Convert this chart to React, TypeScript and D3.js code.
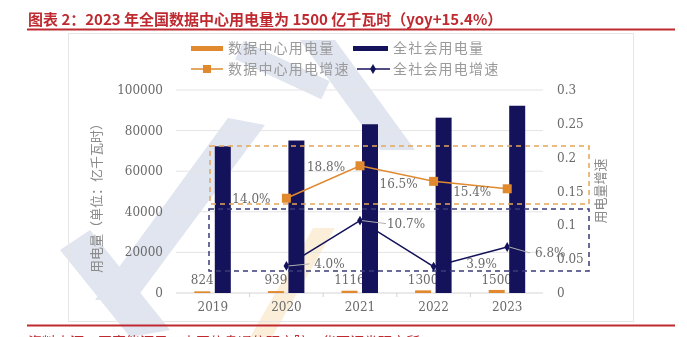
import React from "react";
import * as d3 from "d3";

const years = ["2019", "2020", "2021", "2022", "2023"];
const dcPower = [824, 939, 1116, 1300, 1500];
const totalPower = [72255, 75110, 83128, 86372, 92241];
const dcGrowthYears = ["2020", "2021", "2022", "2023"];
const dcGrowth = [0.14, 0.188, 0.165, 0.154];
const totalGrowth = [0.04, 0.107, 0.039, 0.068];
const leftTicks = [0, 20000, 40000, 60000, 80000, 100000];
const rightTicks = [0, 0.05, 0.1, 0.15, 0.2, 0.25, 0.3];
const legendNames = ["数据中心用电量", "全社会用电量", "数据中心用电增速", "全社会用电增速"];
const titleText = "图表 2：2023 年全国数据中心用电量为 1500 亿千瓦时（yoy+15.4%）";
const sourceText = "资料来源：国家能源局，中国信息通信研究院，华西证券研究所";

const ORANGE = "#e0892f";
const NAVY = "#14125a";
const RED = "#bf2a30";
const GRAY = "#6a6a6a";
const SERIF = "'DejaVu Serif', serif";
const CJK = "'Noto Sans CJK SC', sans-serif";

// label offsets (styling only)
const dcLabelOff = [
  [-35, 5],
  [-34, 5],
  [-35, 7],
  [-35, 7],
];
const totLabelOff = [
  [43, 2],
  [46, 7],
  [48, 1],
  [43, 10],
];
const totLeader = [true, true, false, true];

export default function App() {
  const x = d3.scaleBand<string>().domain(years).range([176, 544]);
  const yL = d3.scaleLinear().domain([0, 100000]).range([293, 90]);
  const yR = d3.scaleLinear().domain([0, 0.3]).range([293, 90]);
  const cx = (y: string) => (x(y) as number) + x.bandwidth() / 2;
  const bw = 16;

  const dcPts = dcGrowthYears.map((y, i) => [cx(y), yR(dcGrowth[i])] as [number, number]);
  const totPts = dcGrowthYears.map((y, i) => [cx(y), yR(totalGrowth[i])] as [number, number]);
  const line = d3.line();

  return (
    <svg
      width={687}
      height={337}
      style={{ position: "absolute", left: 0, top: 0, background: "#fff" }}
    >
      {/* watermark */}
      <g opacity={0.28}>
        <polygon points="95,300 135,300 265,125 228,118" fill="#8fa0c8" />
        <polygon points="60,250 90,230 170,330 130,337" fill="#8fa0c8" />
        <polygon points="235,60 330,60 330,80 235,80" fill="#8fa0c8" transform="rotate(25 282 70)" />
        <polygon points="300,40 335,40 415,150 380,150" fill="#8fa0c8" />
        <polygon points="250,337 272,337 335,228 313,228" fill="#f2c77a" />
      </g>

      {/* title */}
      <text x={28} y={25} fontFamily={CJK} fontWeight={700} fontSize={15} fill={RED}>
        {titleText}
      </text>
      <line x1={27} x2={675} y1={29.5} y2={29.5} stroke={RED} strokeWidth={2} />
      <line x1={27} x2={675} y1={325.5} y2={325.5} stroke={RED} strokeWidth={2} />
      <text x={28} y={347} fontFamily={CJK} fontSize={14} fill={RED}>
        {sourceText}
      </text>

      {/* panel */}
      <rect x={68.5} y={33.5} width={565} height={288} fill="none" stroke="#e6e6e6" />

      {/* legend */}
      <g fontFamily={CJK} fontSize={14} fill="#9a9a9a" letterSpacing={1.2}>
        <rect x={191} y={46} width={32} height={5} fill={ORANGE} />
        <text x={228} y={53}>{legendNames[0]}</text>
        <rect x={353} y={46} width={35} height={5} fill={NAVY} />
        <text x={393} y={53}>{legendNames[1]}</text>
        <line x1={191} x2={223} y1={69} y2={69} stroke={ORANGE} strokeWidth={1.5} />
        <rect x={203} y={65} width={8} height={8} fill={ORANGE} />
        <text x={228} y={74}>{legendNames[2]}</text>
        <line x1={357} x2={390} y1={69} y2={69} stroke={NAVY} strokeWidth={1.5} />
        <path d={d3.symbol(d3.symbolDiamond, 30)() as string} transform="translate(373,69)" fill={NAVY} />
        <text x={393} y={74}>{legendNames[3]}</text>
      </g>

      {/* gridlines */}
      {leftTicks.slice(1).map((t) => (
        <line key={t} x1={176} x2={543} y1={yL(t)} y2={yL(t)} stroke="#e4e4e4" strokeWidth={1} />
      ))}
      <line x1={176} x2={543} y1={yL(0)} y2={yL(0)} stroke="#d4d4d4" strokeWidth={1} />
      {years.slice(1).map((y) => (
        <line key={y} x1={x(y) as number} x2={x(y) as number} y1={293} y2={297} stroke="#d4d4d4" />
      ))}

      {/* left axis */}
      <g fontFamily={SERIF} fontSize={12} fill={GRAY} textAnchor="end">
        {leftTicks.map((t) => (
          <text key={t} x={163} y={yL(t) + 4}>{t}</text>
        ))}
      </g>
      {/* right axis */}
      <g fontFamily={SERIF} fontSize={12} fill={GRAY} textAnchor="start">
        {rightTicks.map((t) => (
          <text key={t} x={557} y={yR(t) + 4}>{String(t)}</text>
        ))}
      </g>
      {/* x axis */}
      <g fontFamily={SERIF} fontSize={12} fill={GRAY} textAnchor="middle">
        {years.map((y) => (
          <text key={y} x={cx(y)} y={311}>{y}</text>
        ))}
      </g>
      <text
        transform="translate(101,195) rotate(-90)"
        textAnchor="middle"
        fontFamily={CJK}
        fontSize={13}
        fill="#8a8a8a"
      >
        用电量（单位：亿千瓦时）
      </text>
      <text
        transform="translate(605,191) rotate(-90)"
        textAnchor="middle"
        fontFamily={CJK}
        fontSize={13}
        fill="#8a8a8a"
      >
        用电量增速
      </text>

      {/* dc bar labels */}
      <g fontFamily={SERIF} fontSize={12} fill={GRAY} textAnchor="middle">
        {years.map((y, i) => (
          <text key={y} x={cx(y) - 10.5} y={284}>{dcPower[i]}</text>
        ))}
      </g>

      {/* bars */}
      {years.map((y, i) => (
        <rect
          key={"dc" + y}
          x={cx(y) - 18.5}
          width={bw}
          y={yL(dcPower[i])}
          height={yL(0) - yL(dcPower[i])}
          fill={ORANGE}
        />
      ))}
      {years.map((y, i) => (
        <rect
          key={"t" + y}
          x={cx(y) + 2}
          width={bw}
          y={yL(totalPower[i])}
          height={yL(0) - yL(totalPower[i])}
          fill={NAVY}
        />
      ))}

      {/* dashed annotation boxes */}
      <rect x={210} y={146} width={379} height={58} fill="none" stroke="#e3a75a" strokeWidth={1.5} strokeDasharray="5,4" />
      <rect x={209} y={209} width={380} height={62} fill="none" stroke="#3b3b78" strokeWidth={1.5} strokeDasharray="5,4" />

      {/* dc growth line */}
      <path d={line(dcPts) as string} fill="none" stroke={ORANGE} strokeWidth={1.5} />
      {dcPts.map((p, i) => (
        <rect key={i} x={p[0] - 4.5} y={p[1] - 4.5} width={9} height={9} fill={ORANGE} />
      ))}
      {/* total growth line */}
      <path d={line(totPts) as string} fill="none" stroke={NAVY} strokeWidth={1.5} />
      {totPts.map((p, i) => (
        <path key={i} d={d3.symbol(d3.symbolDiamond, 28)() as string} transform={`translate(${p[0]},${p[1]})`} fill={NAVY} />
      ))}
      {totPts.map((p, i) =>
        totLeader[i] ? (
          <line
            key={"ld" + i}
            x1={p[0] + 2}
            y1={p[1]}
            x2={p[0] + totLabelOff[i][0] - 20}
            y2={p[1] + totLabelOff[i][1] - 4}
            stroke="#b0b0b0"
            strokeWidth={1}
          />
        ) : null
      )}

      {/* line labels */}
      <g fontFamily={SERIF} fontSize={12} fill={GRAY} textAnchor="middle">
        {dcPts.map((p, i) => (
          <text key={"dl" + i} x={p[0] + dcLabelOff[i][0]} y={p[1] + dcLabelOff[i][1]}>
            {(dcGrowth[i] * 100).toFixed(1) + "%"}
          </text>
        ))}
        {totPts.map((p, i) => (
          <text key={"tl" + i} x={p[0] + totLabelOff[i][0]} y={p[1] + totLabelOff[i][1]}>
            {(totalGrowth[i] * 100).toFixed(1) + "%"}
          </text>
        ))}
      </g>
    </svg>
  );
}
